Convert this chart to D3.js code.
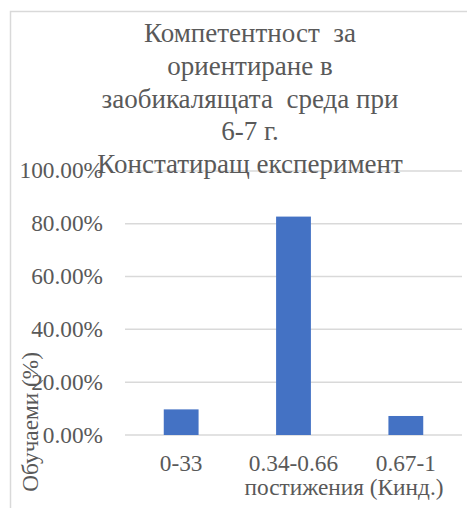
<!DOCTYPE html>
<html>
<head>
<meta charset="utf-8">
<script src="https://cdn.jsdelivr.net/npm/d3@7"></script>
<style>
  svg text { font-family: 'Liberation Serif', 'Times New Roman', Tinos, serif !important; }
</style>
</head>
<body style="margin:0">
<svg id="chart" width="467" height="508"></svg>
<script>
const titleLines = ["Компетентност\u00A0 за", "ориентиране в", "заобикалящата\u00A0 среда при", "6-7 г.", "Констатиращ експеримент"];
const categories = ["0-33", "0.34-0.66", "0.67-1"];
const values = [0.097, 0.827, 0.072];
const yTicks = [0, 0.2, 0.4, 0.6, 0.8, 1.0];
const xAxisTitle = "постижения (Кинд.)";
const yAxisTitle = "Обучаеми (%)";

const TEXT = "#595959";
const FAMILY = "'Liberation Serif', 'Times New Roman', Tinos, serif";
const svg = d3.select("#chart");

function txt(parent) {
  return parent.append("text")
    .style("font-family", FAMILY, "important")
    .attr("fill", TEXT);
}

// chart border (left and top visible)
svg.append("rect")
  .attr("x", 10.5).attr("y", 11.5)
  .attr("width", 480).attr("height", 520)
  .attr("fill", "#fff")
  .attr("stroke", "#d9d9d9").attr("stroke-width", 1.5);

const plot = { left: 125, right: 462, top: 170.9, bottom: 435 };

const x = d3.scaleBand()
  .domain(categories)
  .range([plot.left, plot.right])
  .paddingInner(0.69)
  .paddingOuter(0.345);

const y = d3.scaleLinear().domain([0, 1]).range([plot.bottom, plot.top]);

// gridlines
svg.append("g").selectAll("line").data(yTicks).join("line")
  .attr("x1", plot.left).attr("x2", plot.right)
  .attr("y1", d => y(d)).attr("y2", d => y(d))
  .attr("stroke", "#d9d9d9").attr("stroke-width", 1.5);

// y tick labels
const fmt = d3.format(".2%");
const tg = svg.append("g");
yTicks.forEach(t => {
  txt(tg).attr("x", 103).attr("y", y(t) + 7.5)
    .attr("text-anchor", "end")
    .style("font-size", "23.3px")
    .text(fmt(t));
});

// bars
svg.append("g").selectAll("rect").data(values).join("rect")
  .attr("x", (d, i) => x(categories[i]))
  .attr("width", x.bandwidth())
  .attr("y", d => y(d))
  .attr("height", d => y(0) - y(d))
  .attr("fill", "#4472c4");

const L = svg.append("g");

// x category labels
categories.forEach(c => {
  txt(L).attr("x", x(c) + x.bandwidth() / 2)
    .attr("y", 471)
    .attr("text-anchor", "middle")
    .style("font-size", "23.3px")
    .text(c);
});

// x axis title
txt(L).attr("x", 344).attr("y", 495)
  .attr("text-anchor", "middle")
  .style("font-size", "23.3px")
  .text(xAxisTitle);

// y axis title
txt(L).attr("transform", "translate(37.5,352) rotate(-90)")
  .attr("text-anchor", "end")
  .style("font-size", "23.3px")
  .text(yAxisTitle);

// title
titleLines.forEach((line, i) => {
  txt(L).attr("x", 250)
    .attr("y", 41.7 + i * 32.9)
    .attr("text-anchor", "middle")
    .style("font-size", "27px")
    .text(line);
});
</script>
</body>
</html>
